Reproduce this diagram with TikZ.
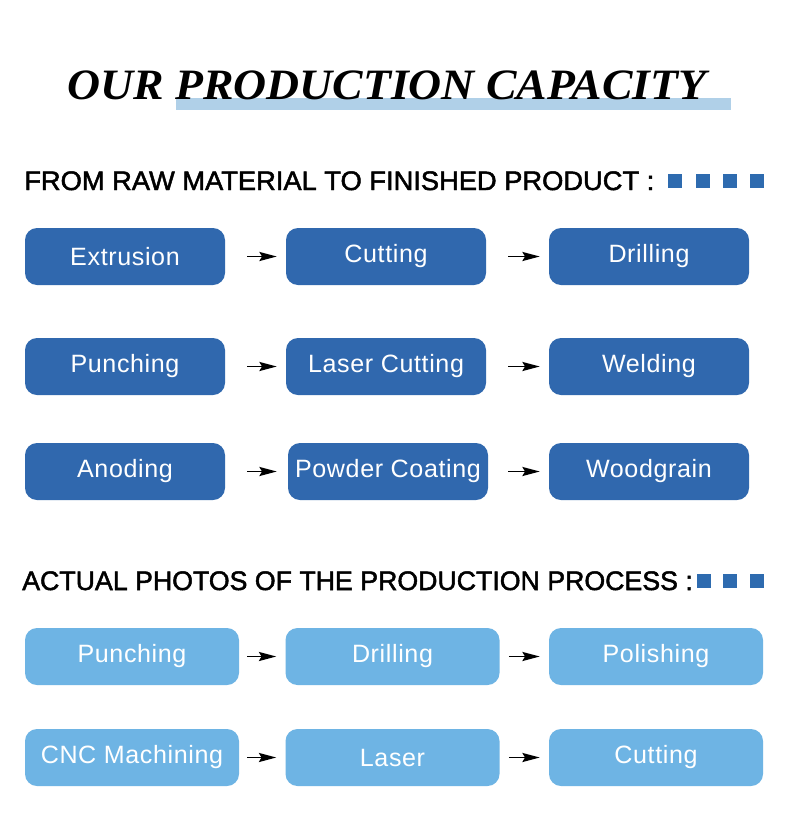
\documentclass[tikz,border=0pt]{standalone}
\usepackage{fontspec}
\setmainfont{Liberation Sans}
\newfontfamily\titlefont{Liberation Serif}
\newfontfamily\headfont{Liberation Sans}[FakeBold=1.8]
\newfontfamily\boxfont{Liberation Sans}[LetterSpace=2.5]
\usetikzlibrary{arrows.meta}

\definecolor{darkstep}{HTML}{3068AE}
\definecolor{lightstep}{HTML}{6EB4E4}
\definecolor{barblue}{HTML}{B0D0E8}
\definecolor{dotblue}{HTML}{2E6BAF}

\tikzset{
  stepbox/.style={rounded corners=9pt,text=white,
    font=\boxfont\fontsize{18.8pt}{20pt}\selectfont,
    minimum height=42.75pt,inner sep=0pt},
  darkbox/.style={stepbox,fill=darkstep,minimum width=150pt},
  lightbox/.style={stepbox,fill=lightstep,minimum width=160.5pt},
  flow/.style={line width=1.3pt,-{Stealth[length=13pt,width=6.8pt,inset=2pt]}},
  heading/.style={anchor=base west,inner sep=0pt,
    font=\headfont\fontsize{20.1pt}{22pt}\selectfont}
}

\begin{document}
\begin{tikzpicture}[x=0.75pt,y=-0.75pt]
\useasboundingbox[fill=white] (0,0) rectangle (790,839);
% title
\fill[barblue] (176,98) rectangle (731,110);
\node[anchor=base west,inner sep=0pt,xscale=1.055,
  font=\titlefont\bfseries\itshape\fontsize{32.5pt}{34pt}\selectfont]
  (title) at (67,99.5) {OUR PRODUCTION CAPACITY};
% first section
\node[heading,xscale=1.018] (headraw) at (24,190) {FROM RAW MATERIAL TO FINISHED PRODUCT :};
\foreach \sx in {668,696,723,750}
  \fill[dotblue] (\sx,174) rectangle ++(14,14);
\node[darkbox] (extr) at (125,256.5) {Extrusion};
\node[darkbox] (cut) at (386,256.5) {Cutting};
\node[darkbox] (drill) at (649,256.5) {Drilling};
\node[darkbox] (punch) at (125,366.5) {Punching};
\node[darkbox] (laser) at (386,366.5) {Laser Cutting};
\node[darkbox] (weld) at (649,366.5) {Welding};
\node[darkbox] (anod) at (125,471.5) {Anoding};
\node[darkbox] (powder) at (388,471.5) {Powder Coating};
\node[darkbox] (wood) at (649,471.5) {Woodgrain};
\draw[flow,shorten <=16.5pt,shorten >=6.75pt] (extr) -- (cut);
\draw[flow,shorten <=16.5pt,shorten >=6.75pt] (cut) -- (drill);
\draw[flow,shorten <=16.5pt,shorten >=6.75pt] (punch) -- (laser);
\draw[flow,shorten <=16.5pt,shorten >=6.75pt] (laser) -- (weld);
\draw[flow,shorten <=16.5pt,shorten >=8.25pt] (anod) -- (powder);
\draw[flow,shorten <=15pt,shorten >=6.75pt] (powder) -- (wood);
% second section
\node[heading,xscale=0.997] (headphoto) at (22,590) {ACTUAL PHOTOS OF THE PRODUCTION PROCESS :};
\foreach \sx in {697,723,750}
  \fill[dotblue] (\sx,574) rectangle ++(14,14);
\node[lightbox] (ppunch) at (132,656.5) {Punching};
\node[lightbox] (pdrill) at (392.5,656.5) {Drilling};
\node[lightbox] (ppolish) at (656,656.5) {Polishing};
\node[lightbox] (pcnc) at (132,757.5) {CNC Machining};
\node[lightbox] (plaser) at (392.5,757.5) {Laser};
\node[lightbox] (pcut) at (656,757.5) {Cutting};
\draw[flow,shorten <=6pt,shorten >=6.75pt] (ppunch) -- (pdrill);
\draw[flow,shorten <=6.75pt,shorten >=6.75pt] (pdrill) -- (ppolish);
\draw[flow,shorten <=6pt,shorten >=6.75pt] (pcnc) -- (plaser);
\draw[flow,shorten <=6.75pt,shorten >=6.75pt] (plaser) -- (pcut);
\end{tikzpicture}
\end{document}
